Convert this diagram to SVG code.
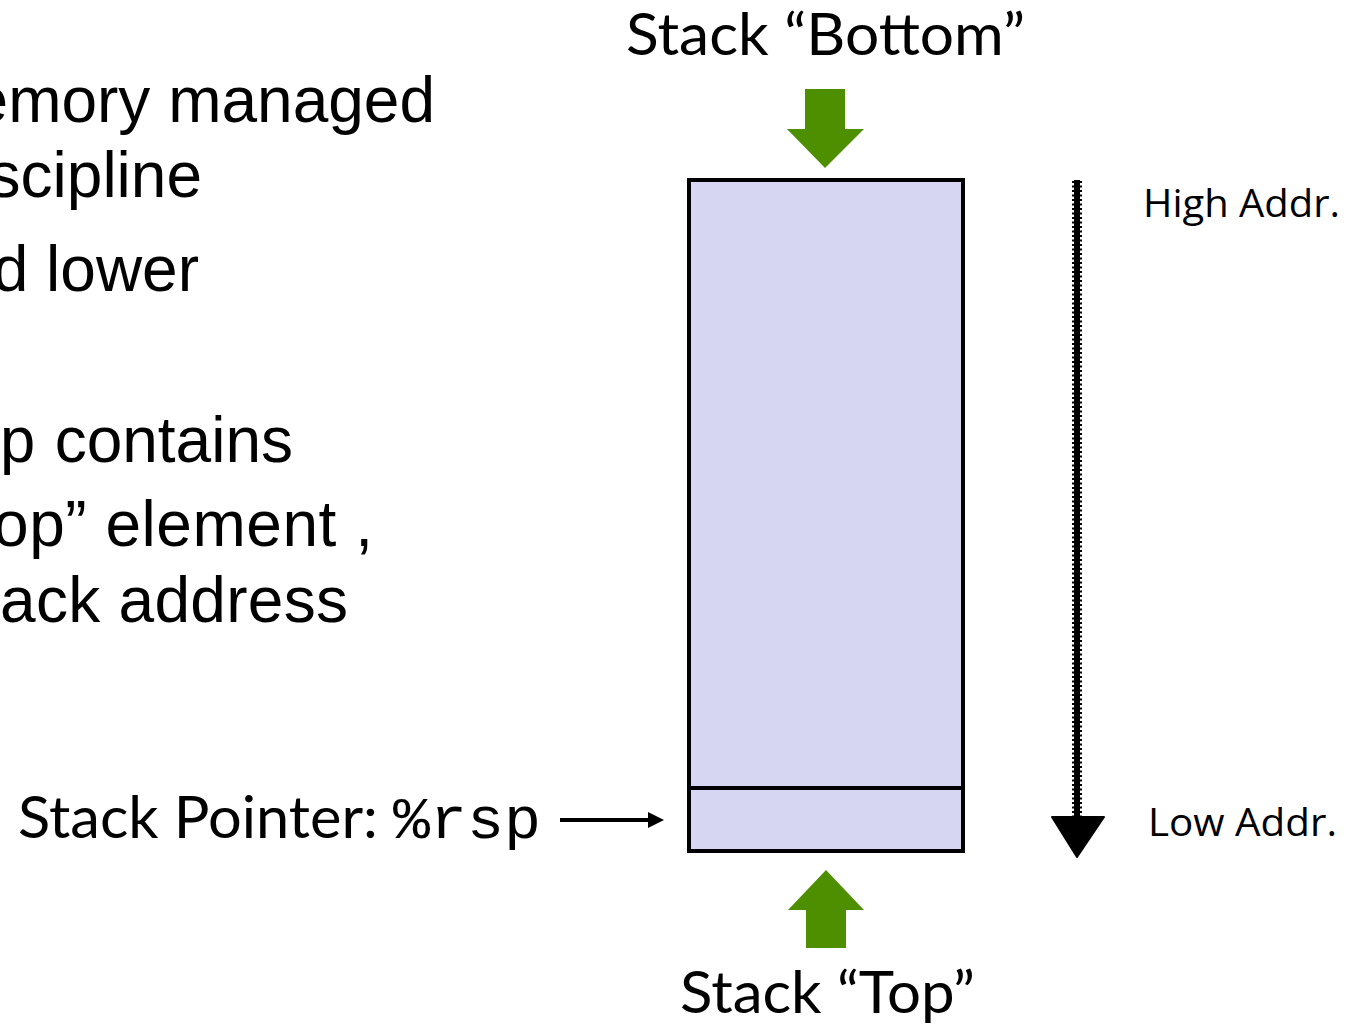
<svg xmlns="http://www.w3.org/2000/svg" width="1357" height="1027" viewBox="0 0 1357 1027">
<style>
.body{font-family:"Liberation Sans",Arial,sans-serif;font-size:64px;fill:#000}
.mono{font-family:"Liberation Mono","Courier New",monospace}
.gill{font-family:Lato,"Liberation Sans",sans-serif;font-size:58px;fill:#000}
.addr{font-family:"Open Sans","Liberation Sans",sans-serif;font-size:39px;fill:#000}
.green{fill:#4E8F00}
</style>
<g id="bullets">
<text class="body" x="435" y="122" text-anchor="end">emory managed</text>
<text class="body" x="202" y="197" text-anchor="end">scipline</text>
<text class="body" x="199" y="291" text-anchor="end">d lower</text>
<text class="body" x="293" y="462" text-anchor="end"><tspan class="mono" font-weight="normal" dx="0">p</tspan> contains</text>
<text class="body" x="373" y="546" text-anchor="end" textLength="380" lengthAdjust="spacing">op” element ,</text>
<text class="body" x="348" y="622" text-anchor="end" textLength="348" lengthAdjust="spacing">ack address</text>
</g>
<g id="stack">
<rect x="689" y="180" width="274" height="671" fill="#D6D6F3" stroke="#000" stroke-width="4"/>
<line x1="689" y1="788" x2="963" y2="788" stroke="#000" stroke-width="4"/>
</g>
<g id="bottom-label">
<text class="gill" x="626" y="55" textLength="399" lengthAdjust="spacingAndGlyphs">Stack “Bottom”</text>
</g>
<g id="top-label">
<text class="gill" x="680" y="1013" textLength="295" lengthAdjust="spacingAndGlyphs">Stack “Top”</text>
</g>
<g id="pointer-label">
<text class="gill" x="18" y="838" textLength="360" lengthAdjust="spacingAndGlyphs">Stack Pointer:</text>
<text class="mono" x="393" y="838" font-size="60" textLength="148" lengthAdjust="spacingAndGlyphs">%rsp</text>
</g>
<g id="high-addr"><text class="addr" x="1143" y="217" textLength="197" lengthAdjust="spacingAndGlyphs">High Addr.</text></g>
<g id="low-addr"><text class="addr" x="1148" y="836" textLength="189" lengthAdjust="spacingAndGlyphs">Low Addr.</text></g>
<g id="connectors">
<polygon class="green" points="805,89 845,89 845,129 864,129 825,168 787,129 805,129"/>
<polygon class="green" points="826,870 864,910 846,910 846,948 806,948 806,910 788,910"/>
<line x1="560" y1="820" x2="650" y2="820" stroke="#000" stroke-width="4"/>
<polygon points="664,820 648,812 648,828" fill="#000"/>
<line x1="1077" y1="180" x2="1077" y2="822" stroke="#000" stroke-width="6"/>
<line x1="1077" y1="181" x2="1077" y2="822" stroke="#000" stroke-width="10" stroke-dasharray="2 2.5"/>
<polygon points="1052,817 1104,817 1077,857" fill="#000" stroke="#000" stroke-width="2" stroke-linejoin="round"/>
</g>
</svg>
